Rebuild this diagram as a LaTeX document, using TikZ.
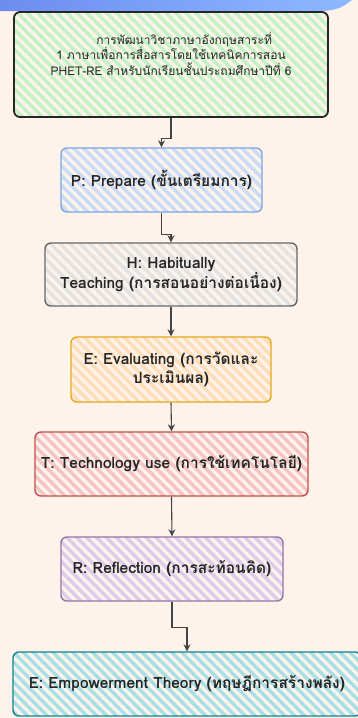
\documentclass[tikz,border=0pt]{standalone}
\usepackage{fontspec}
\setmainfont[Script=Thai]{Loma}
\usetikzlibrary{patterns.meta,arrows.meta}
\definecolor{bgcream}{HTML}{FDF3EB}
\definecolor{bandL}{HTML}{6C8DF0}
\definecolor{bandR}{HTML}{8DB9FF}
\definecolor{gHatch}{HTML}{C2F2C4}
\definecolor{bHatch}{HTML}{C9DBF6}
\definecolor{bBord}{HTML}{7EA6E0}
\definecolor{grHatch}{HTML}{E2E2E2}
\definecolor{grBord}{HTML}{666666}
\definecolor{oHatch}{HTML}{FFDDB8}
\definecolor{oBord}{HTML}{E3A81A}
\definecolor{rHatch}{HTML}{F5C3C3}
\definecolor{rBord}{HTML}{C4504C}
\definecolor{pHatch}{HTML}{DCCBEB}
\definecolor{pBord}{HTML}{9673A6}
\definecolor{tHatch}{HTML}{A7DFE6}
\definecolor{tBord}{HTML}{12848C}
\definecolor{connc}{HTML}{444444}
\tikzset{
  boxst/.style={draw, rounded corners=6pt, line width=1.4pt, align=center, inner sep=0pt, text=black!85, font=\fontsize{15.5}{19.5}\selectfont\bfseries},
  hatch/.style={pattern={Lines[angle=-45,distance=7pt,line width=3.4pt]}, pattern color=#1},
  conn/.style={draw=connc, line width=1.1pt, -{Stealth[length=7pt,width=7pt]}},
}
\begin{document}
\begin{tikzpicture}[x=1pt,y=-1pt]
\fill[bgcream] (0,0) rectangle (358,718);
\useasboundingbox (0,0) rectangle (358,718);
\shade[left color=bandL, right color=bandR] (0,0) -- (0,11) -- (318,11) .. controls (338,11) and (344,6) .. (352,0) -- cycle;
\node[boxst, hatch=gHatch, draw=black!85, line width=1.8pt, minimum width=314pt, minimum height=105pt, font=\fontsize{12}{15.5}\selectfont] (b1) at (171,64.5) {\hspace*{2.2em}การพัฒนาวิชาภาษาอังกฤษสาระที่\\1 ภาษาเพื่อการสื่อสารโดยใช้เทคนิคการสอน\\PHET-RE สำหรับนักเรียนชั้นประถมศึกษาปีที่ 6\\[6pt]};
\node[boxst, hatch=bHatch, draw=bBord, minimum width=201pt, minimum height=64pt] (b2) at (161.5,180) {P: Prepare (ขั้นเตรียมการ)};
\node[boxst, hatch=grHatch, draw=grBord, minimum width=252pt, minimum height=63pt] (b3) at (171,274.5) {H: Habitually\\Teaching (การสอนอย่างต่อเนื่อง)};
\node[boxst, hatch=oHatch, draw=oBord, minimum width=200pt, minimum height=65pt] (b4) at (171,369.5) {E: Evaluating (การวัดและ\\ประเมินผล)};
\node[boxst, hatch=rHatch, draw=rBord, minimum width=273pt, minimum height=64pt] (b5) at (171.5,464) {T: Technology use (การใช้เทคโนโลยี)};
\node[boxst, hatch=pHatch, draw=pBord, minimum width=222pt, minimum height=64pt] (b6) at (172,569) {R: Reflection (การสะท้อนคิด)};
\node[boxst, hatch=tHatch, draw=tBord, minimum width=348pt, minimum height=64pt] (b7) at (187,684) {E: Empowerment Theory (ทฤษฎีการสร้างพลัง)};
\draw[conn] (b1.south) -- ++(0,21) -| (b2.north);
\draw[conn] (b2.south) -- ++(0,22) -| (b3.north);
\draw[conn] (b3.south) -- (b4.north);
\draw[conn] (b4.south) -- (b5.north);
\draw[conn] (b5.south) -- (b6.north);
\draw[conn] (b6.south) -- ++(0,26) -| (b7.north);
\end{tikzpicture}
\end{document}
